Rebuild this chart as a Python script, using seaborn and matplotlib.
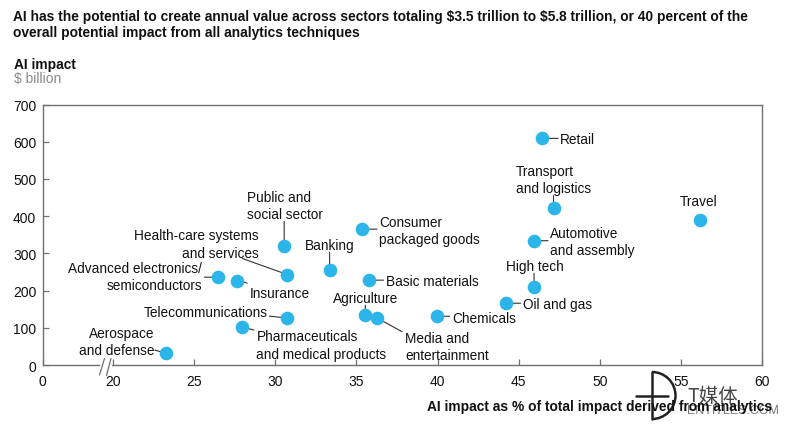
import numpy as np
import matplotlib
matplotlib.use("Agg")
import matplotlib.pyplot as plt
from matplotlib.lines import Line2D
from matplotlib.patches import Arc
from matplotlib.transforms import IdentityTransform
import pandas as pd
import seaborn as sns

# Data
sectors = ["Retail", "Transport\nand logistics", "Travel", "Consumer\npackaged goods",
           "Automotive\nand assembly", "Public and\nsocial sector", "Banking",
           "Health-care systems\nand services", "Advanced electronics/\nsemiconductors",
           "Insurance", "Basic materials", "High tech", "Oil and gas", "Chemicals",
           "Agriculture", "Media and\nentertainment", "Telecommunications",
           "Pharmaceuticals\nand medical products", "Aerospace\nand defense"]
share_pct = [46.45, 47.15, 56.15, 35.35, 45.95, 30.55, 33.35, 30.75, 26.5, 27.65, 35.75, 45.95,
             44.2, 39.95, 35.55, 36.25, 30.75, 27.95, 23.25]
impact_bn = [609, 421, 389, 365, 334, 320, 256, 243, 236, 227, 228, 209,
             166, 131, 134, 127, 126, 102, 32]
x_ticks = [0, 20, 25, 30, 35, 40, 45, 50, 55, 60]
y_ticks = [0, 100, 200, 300, 400, 500, 600, 700]

# Layout: label anchor (px from point, y up), alignment, leader end (px from point)
label_dx = [18, -38, -1, 17, 16, -37.5, -25, -29, -16.5, 12.5, 17, -28.5, 17, 15.5, -32.5, 28.5, -19.5, 14.5, -11.5]
label_dy = [-1, 28.5, 19, -1.5, -0.5, 40.5, 24.5, 30.5, 0.5, -12.5, -1, 21, -1, -2, 17, -28.5, 6.5, -18, 11.5]
label_ha = ["left", "left", "center", "left", "left", "left", "left", "right", "right", "left",
            "left", "left", "left", "left", "left", "left", "right", "left", "right"]
lead_dx = [16, 0, 0, 15, 14, 0, 0, -45, -14, 10, 15, 0, 15, 13, 0, 25.5, -18, 12, -11]
lead_dy = [0, 13, 0, 0, 0, 24.5, 17.5, 16, 0, -2.5, 0, 14, 0, 0, 10, -14, 2, -3, 3]

W, H = 786, 431
sns.set_style("white")
plt.rcParams["font.family"] = ["Liberation Sans", "DejaVu Sans"]
fig = plt.figure(figsize=(W / 100, H / 100), dpi=100)
ax = fig.add_axes([42.5 / W, 1 - 366 / H, (762 - 42.5) / W, (366 - 105.5) / H])

# compressed stretch below the axis break at 20
brk_in, brk_out = [0, 20, 60], [0, 70.5, 719.5]
ax.set_xscale("function", functions=(lambda v: np.interp(v, brk_in, brk_out),
                                     lambda v: np.interp(v, brk_out, brk_in)))

df = pd.DataFrame({"share": share_pct, "impact": impact_bn})
sns.scatterplot(data=df, x="share", y="impact", ax=ax, color="#2CB5E8", s=96,
                linewidth=0, zorder=3, clip_on=False)
ax.set_xlim(0, 60)
ax.set_ylim(0, 700)
ax.set_xticks(x_ticks)
ax.set_yticks(y_ticks)
ax.minorticks_off()
ax.set_xlabel("")
ax.set_ylabel("")
ax.tick_params(axis="both", direction="in", length=4.5, width=0.9, color="#707070",
               labelsize=10, labelcolor="#111111", pad=4.5, bottom=True, left=True)
ax.tick_params(axis="x", pad=6.5)
for s in ax.spines.values():
    s.set_color("#707070")
    s.set_linewidth(1.0)
    s.set_visible(True)

for name, px, py, dx, dy, ha, lx, ly in zip(sectors, share_pct, impact_bn, label_dx, label_dy,
                                            label_ha, lead_dx, lead_dy):
    ax.annotate(name, (px, py), xytext=(dx, dy), textcoords="offset pixels", ha=ha, va="center",
                fontsize=9.85, color="#111111", linespacing=1.3, zorder=4)
    if lx or ly:
        ax.annotate("", (px, py), xytext=(lx, ly), textcoords="offset pixels",
                    arrowprops=dict(arrowstyle="-", color="#333333", lw=0.8,
                                    shrinkA=0, shrinkB=0), zorder=2)

# axis break marks (pixel positions in the figure, y flipped)
def brk(x0, y0, x1, y1, **kw):
    fig.add_artist(Line2D([x0, x1], [H - y0, H - y1], transform=IdentityTransform(), **kw))
brk(102, 367, 110, 367, color="white", lw=3)
brk(99.5, 376, 104.5, 359.5, color="#707070", lw=0.9)
brk(106.5, 376.5, 111, 359.5, color="#707070", lw=0.9)

# Source watermark, sits underneath the axis title
brk(652, 373, 652, 420, color="#222222", lw=1.8, zorder=1)
brk(636, 397, 668, 397, color="#222222", lw=1.8, zorder=1)
fig.add_artist(Arc((652, H - 396.5), 47, 47, theta1=-90, theta2=90, transform=IdentityTransform(),
                   color="#222222", lw=1.8, zorder=1))
fig.text(687 / W, 1 - 397 / H, "T媒体", fontsize=14, color="#444444", va="center",
         family=["Noto Sans CJK SC", "DejaVu Sans"], zorder=1)
fig.text(687 / W, 1 - 411 / H, "ENTITLES.COM", fontsize=9, color="#777777", va="center", zorder=1)

# Titles
fig.text(13 / W, 1 - 17 / H, "AI has the potential to create annual value across sectors totaling "
         r"\$3.5 trillion to \$5.8 trillion, or 40 percent of the", fontsize=9.9, fontweight="bold",
         color="#111111", va="center")
fig.text(13 / W, 1 - 33.5 / H, "overall potential impact from all analytics techniques", fontsize=9.9,
         fontweight="bold", color="#111111", va="center")
fig.text(14 / W, 1 - 64.5 / H, "AI impact", fontsize=9.9, fontweight="bold", color="#111111", va="center")
fig.text(14 / W, 1 - 79.5 / H, r"\$ billion", fontsize=10, color="#8a8a8a", va="center")
fig.text(772 / W, 1 - 407.5 / H, "AI impact as % of total impact derived from analytics", fontsize=9.93,
         fontweight="bold", color="#111111", va="center", ha="right", zorder=5)

fig.savefig("out.png", dpi=100, facecolor="white")
